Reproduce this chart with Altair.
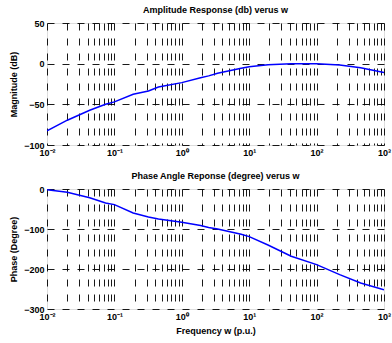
import altair as alt
import pandas as pd

# Frequency points (p.u.) and read-off values
w = [0.01, 0.02, 0.043, 0.074, 0.1, 0.19, 0.32, 0.45, 1.0, 1.9, 2.5, 3.4,
     7.6, 10, 19, 42, 100, 220, 450, 1000]
mag_db = [-82.7, -69.5, -57.3, -50.0, -47.0, -37.7, -33.6, -28.7, -23.3, -17.2, -15.0, -11.8,
          -5.7, -3.7, -1.2, 0.0, 0.0, -1.6, -4.9, -11.0]
phase_deg = [-2, -8, -22, -35, -39, -60, -70, -75, -83, -91, -96, -100,
             -113, -119, -140, -168, -189, -214, -235, -252]

x_grid = [m * 10.0 ** e for e in range(-2, 3) for m in range(1, 10)] + [1000.0]
decades = [0.01, 0.1, 1.0, 10.0, 100.0, 1000.0]
decade_text = ["10⁻²", "10⁻¹", "10⁰", "10¹", "10²", "10³"]
mag_ticks = [50, 0, -50, -100]
phase_ticks = [0, -100, -200, -300]

title_top = "Amplitude Response (db) verus w"
title_bottom = "Phase Angle Reponse (degree) verus w"
ytitle_top = "Magnitude (dB)"
ytitle_bottom = "Phase (Degree)"
xtitle = "Frequency w (p.u.)"

FONT = "Liberation Sans"

label_expr = " : ".join(
    f"abs(datum.value - {d}) < {d * 1e-6} ? '{t}'" for d, t in zip(decades, decade_text)
) + " : ''"

df = pd.DataFrame({"w": w, "mag": mag_db, "phase": phase_deg})

axis_style = dict(
    grid=True, gridColor="#000000", gridOpacity=0.9, gridDash=[7, 8], gridWidth=1,
    domain=False, ticks=False,
    labelFont=FONT, labelFontSize=9, labelFontWeight="bold", labelColor="black",
    labelPadding=3,
    titleFont=FONT, titleFontSize=9, titleFontWeight="bold", titleColor="black",
    titlePadding=5,
)


def x_enc(title):
    return alt.X(
        "w:Q",
        scale=alt.Scale(type="log", domain=[0.01, 1000], nice=False),
        axis=alt.Axis(values=x_grid, labelExpr=label_expr, title=title,
                      labelOverlap=False, labelFlush=False, **axis_style),
    )


def panel(field, ticks, domain, ytitle, ptitle, xt, height):
    return alt.Chart(df).mark_line(color="#0000ff", strokeWidth=1.5, clip=True).encode(
        x=x_enc(xt),
        y=alt.Y(f"{field}:Q", scale=alt.Scale(domain=domain, nice=False, zero=False),
                axis=alt.Axis(values=ticks, title=ytitle, **axis_style)),
    ).properties(
        width=337, height=height,
        title=alt.TitleParams(ptitle, fontSize=9, font=FONT, fontWeight="bold",
                              color="black", offset=4, anchor="middle"),
    )


top = panel("mag", mag_ticks, [-100, 50], ytitle_top, title_top, None, 122)
bottom = panel("phase", phase_ticks, [-300, 0], ytitle_bottom, title_bottom, xtitle, 120)

chart = alt.vconcat(top, bottom, spacing=13).properties(
    padding={"left": 9, "top": 5, "right": 0, "bottom": 0}
).configure_view(
    stroke="black", strokeWidth=1
).configure(background="white")

chart.save("out.html", embed_options={"renderer": "svg", "actions": False})
